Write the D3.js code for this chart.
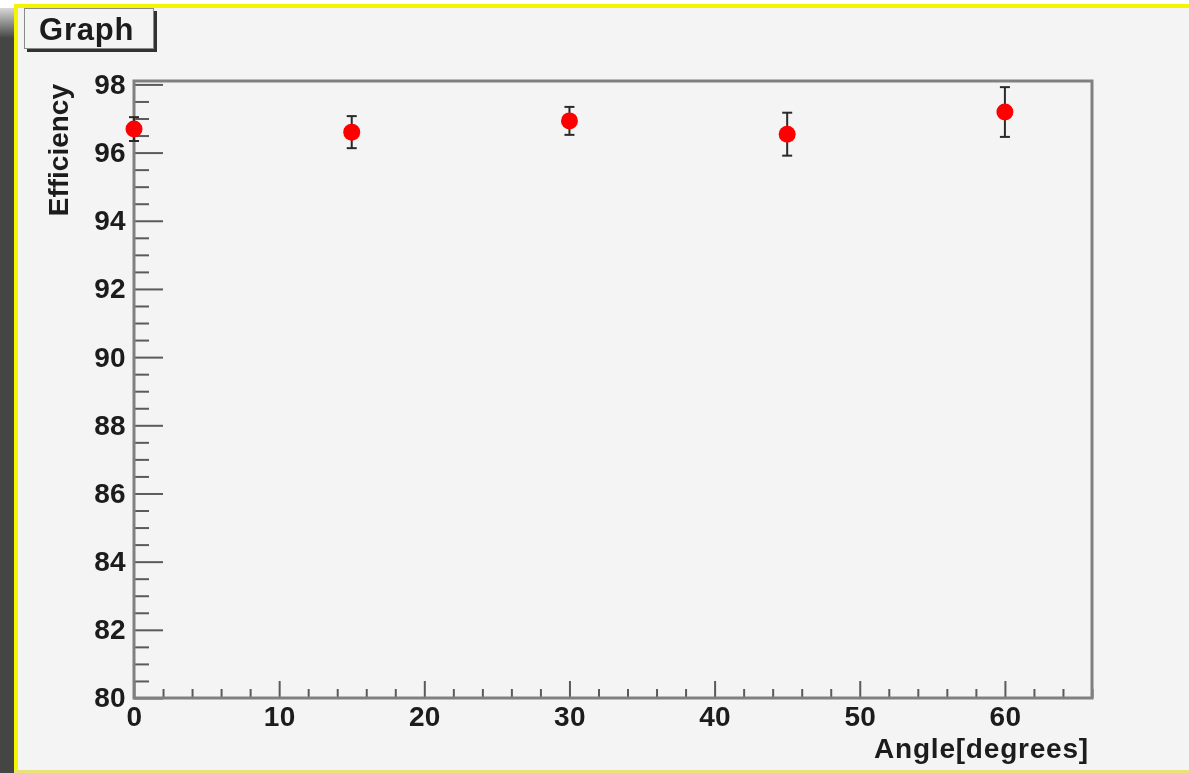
<!DOCTYPE html>
<html>
<head>
<meta charset="utf-8">
<script src="https://cdn.jsdelivr.net/npm/d3@7"></script>
<style>
  html, body { margin: 0; padding: 0; background: #ffffff; }
  svg { display: block; }
  text { font-family: "Liberation Sans", Arial, sans-serif; font-weight: bold; fill: #1a1a1a; }
</style>
</head>
<body>
<div id="chart"></div>
<script>

// data
var angles = [0, 15, 30, 45, 60];
var efficiency = [96.69, 96.60, 96.93, 96.54, 97.19];
var effErrors = [0.35, 0.47, 0.41, 0.63, 0.73];

var xTicks = [0, 10, 20, 30, 40, 50, 60];
var yTicks = [80, 82, 84, 86, 88, 90, 92, 94, 96, 98];

var w = 1189, h = 773;

// frame box
var fx0 = 134, fx1 = 1092, fy0 = 81, fy1 = 698;

var svg = d3.select("#chart")
	.append("svg")
	.attr("width", w)
	.attr("height", h);

// slight softening, the original is a scaled screenshot
svg.append("defs")
	.append("filter")
	.attr("id", "soft")
	.append("feGaussianBlur")
	.attr("stdDeviation", 0.55);

var root = svg.append("g").attr("filter", "url(#soft)");

// canvas decoration: dark left bar, yellow border, grey pad
root.append("rect")
	.attr("x", 0).attr("y", 0)
	.attr("width", w).attr("height", h)
	.attr("fill", "#ffffff");

var shade = svg.select("defs")
	.append("linearGradient")
	.attr("id", "barShade")
	.attr("x1", 0).attr("x2", 0).attr("y1", 0).attr("y2", 1);
shade.append("stop").attr("offset", "0").attr("stop-color", "#d8d8d8");
shade.append("stop").attr("offset", "0.04").attr("stop-color", "#444444");
shade.append("stop").attr("offset", "1").attr("stop-color", "#444444");

root.append("rect")
	.attr("x", 0).attr("y", 8)
	.attr("width", 14).attr("height", h - 8)
	.attr("fill", "url(#barShade)");

root.append("rect")
	.attr("x", 14).attr("y", 4)
	.attr("width", w - 14).attr("height", h - 4)
	.attr("fill", "#f5f500");

root.append("rect")
	.attr("x", 18).attr("y", 8)
	.attr("width", w - 18).attr("height", h - 8 - 3)
	.attr("fill", "#f4f4f4");

root.append("rect") // softer bottom edge
	.attr("x", 14).attr("y", h - 3)
	.attr("width", w - 14).attr("height", 3)
	.attr("fill", "#e9e27a");

// title box "Graph"
root.append("rect")
	.attr("x", 27).attr("y", 11)
	.attr("width", 130).attr("height", 41)
	.attr("fill", "#333333");

root.append("rect")
	.attr("x", 24.5).attr("y", 8.5)
	.attr("width", 129).attr("height", 40)
	.attr("fill", "#f4f4f4")
	.attr("stroke", "#8a8a8a")
	.attr("stroke-width", 1);

root.append("text")
	.attr("x", 39).attr("y", 40)
	.attr("font-size", 31)
	.attr("letter-spacing", 0.8)
	.text("Graph");

// scales
var xScale = d3.scaleLinear()
	.domain([0, 66])
	.range([fx0, fx1]);

var yScale = d3.scaleLinear()
	.domain([80, 98.1])
	.range([fy1, fy0]);

// minor ticks first, majors over them
var yMinor = d3.range(80, 98.01, 0.5).filter(d => Math.abs(d % 2) > 0.01);
var xMinor = d3.range(0, 66.01, 2).filter(d => d % 10 != 0);

root.append("g")
	.attr("transform", "translate(" + fx0 + ",0)")
	.call(d3.axisLeft(yScale).tickValues(yMinor).tickSizeInner(-15).tickSizeOuter(0).tickFormat(""))
	.call(g => g.select(".domain").remove())
	.call(g => g.selectAll("line").attr("stroke", "#5a5a5a").attr("stroke-width", 2));

root.append("g")
	.attr("transform", "translate(0," + fy1 + ")")
	.call(d3.axisBottom(xScale).tickValues(xMinor).tickSizeInner(-9).tickSizeOuter(0).tickFormat(""))
	.call(g => g.select(".domain").remove())
	.call(g => g.selectAll("line").attr("stroke", "#5a5a5a").attr("stroke-width", 2));

var yAxis = root.append("g")
	.attr("class", "yAxis")
	.attr("transform", "translate(" + fx0 + ",0)")
	.call(d3.axisLeft(yScale).tickValues(yTicks).tickSizeInner(-29).tickSizeOuter(0).tickPadding(8).tickFormat(d3.format("d")));

var xAxis = root.append("g")
	.attr("class", "xAxis")
	.attr("transform", "translate(0," + fy1 + ")")
	.call(d3.axisBottom(xScale).tickValues(xTicks).tickSizeInner(-17).tickSizeOuter(0).tickPadding(8).tickFormat(d3.format("d")));

[yAxis, xAxis].forEach(function(g) {
	g.select(".domain").remove();
	g.selectAll("line").attr("stroke", "#5a5a5a").attr("stroke-width", 2);
	g.selectAll("text")
		.attr("font-size", 28)
		.attr("letter-spacing", 0.3)
		.attr("font-family", null)
		.attr("fill", "#1a1a1a");
});

xAxis.selectAll("text").attr("dy", "0.72em");

// frame
root.append("path")
	.attr("d", "M" + fx0 + "," + fy1 + "H" + fx1 + "V" + fy0 + "H" + fx0 + "Z")
	.attr("fill", "none")
	.attr("stroke", "#808080")
	.attr("stroke-width", 3);

// axis titles
root.append("text")
	.attr("x", fx1 - 3).attr("y", 758)
	.attr("text-anchor", "end")
	.attr("font-size", 28)
	.attr("letter-spacing", 0.8)
	.text("Angle[degrees]");

root.append("text")
	.attr("transform", "translate(68," + (fy0 + 3) + ") rotate(-90)")
	.attr("text-anchor", "end")
	.attr("font-size", 28)
	.text("Efficiency");

// points with errors
var points = angles.map((a, i) => ({x: a, y: efficiency[i], e: effErrors[i]}));

var bars = root.append("g").attr("class", "errors");

bars.selectAll("line.err")
	.data(points)
	.enter()
	.append("line")
	.attr("class", "err")
	.attr("x1", d => xScale(d.x)).attr("x2", d => xScale(d.x))
	.attr("y1", d => yScale(d.y - d.e)).attr("y2", d => yScale(d.y + d.e))
	.attr("stroke", "#2a2a2a")
	.attr("stroke-width", 2);

[-1, 1].forEach(function(sgn) {
	bars.selectAll("line.cap" + (sgn > 0 ? "Hi" : "Lo"))
		.data(points)
		.enter()
		.append("line")
		.attr("x1", d => xScale(d.x) - 5).attr("x2", d => xScale(d.x) + 5)
		.attr("y1", d => yScale(d.y + sgn * d.e)).attr("y2", d => yScale(d.y + sgn * d.e))
		.attr("stroke", "#2a2a2a")
		.attr("stroke-width", 2);
});

root.append("g")
	.selectAll("circle")
	.data(points)
	.enter()
	.append("circle")
	.attr("cx", d => xScale(d.x))
	.attr("cy", d => yScale(d.y))
	.attr("r", 8.5)
	.attr("fill", "#ff0000");

</script>
</body>
</html>
